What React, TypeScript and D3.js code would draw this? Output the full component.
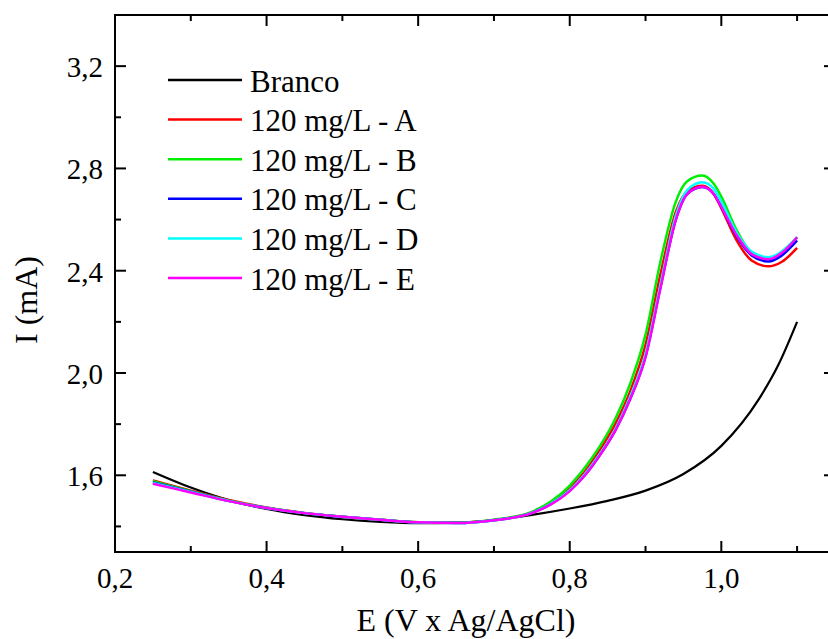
import React from "react";
import * as d3 from "d3";

// ---- data ----
const BLANK_E = [0.25, 0.3, 0.35, 0.4, 0.45, 0.5, 0.55, 0.6, 0.65, 0.7, 0.75, 0.8, 0.85, 0.9, 0.95, 1.0, 1.05, 1.075, 1.1];
const BLANK_I = [1.613, 1.552, 1.503, 1.468, 1.444, 1.428, 1.418, 1.413, 1.415, 1.425, 1.445, 1.47, 1.5, 1.54, 1.605, 1.715, 1.9, 2.03, 2.2];

const E_GRID = [0.25, 0.3, 0.35, 0.4, 0.45, 0.5, 0.55, 0.6, 0.65, 0.7, 0.75, 0.775, 0.8, 0.82, 0.84, 0.86, 0.88, 0.9, 0.92, 0.94, 0.955, 0.975, 0.99, 1.0, 1.02, 1.04, 1.062, 1.08, 1.1];
const SAMPLE_A = [1.58, 1.54, 1.503, 1.474, 1.453, 1.438, 1.426, 1.416, 1.414, 1.425, 1.455, 1.492, 1.55, 1.615, 1.7, 1.8, 1.93, 2.11, 2.39, 2.63, 2.71, 2.732, 2.7, 2.645, 2.52, 2.44, 2.417, 2.435, 2.489];
const SAMPLE_B = [1.577, 1.538, 1.501, 1.473, 1.452, 1.438, 1.426, 1.416, 1.414, 1.426, 1.457, 1.497, 1.56, 1.63, 1.715, 1.82, 1.96, 2.15, 2.44, 2.67, 2.75, 2.772, 2.74, 2.69, 2.56, 2.47, 2.448, 2.475, 2.53];
const SAMPLE_C = [1.572, 1.536, 1.5, 1.472, 1.452, 1.438, 1.426, 1.416, 1.413, 1.424, 1.453, 1.487, 1.54, 1.6, 1.68, 1.775, 1.9, 2.065, 2.34, 2.6, 2.7, 2.727, 2.7, 2.65, 2.535, 2.46, 2.436, 2.46, 2.518];
const SAMPLE_D = [1.57, 1.535, 1.5, 1.472, 1.452, 1.438, 1.426, 1.416, 1.413, 1.424, 1.453, 1.488, 1.542, 1.605, 1.685, 1.78, 1.91, 2.075, 2.35, 2.615, 2.715, 2.746, 2.72, 2.67, 2.55, 2.475, 2.453, 2.475, 2.531];
const SAMPLE_E = [1.567, 1.533, 1.499, 1.472, 1.452, 1.438, 1.426, 1.416, 1.413, 1.424, 1.452, 1.486, 1.538, 1.6, 1.68, 1.775, 1.9, 2.062, 2.335, 2.6, 2.7, 2.728, 2.7, 2.65, 2.54, 2.465, 2.445, 2.47, 2.531];

const LEGEND_LABELS = ["Branco", "120 mg/L - A", "120 mg/L - B", "120 mg/L - C", "120 mg/L - D", "120 mg/L - E"];
const COLORS = ["#000000", "#ff0000", "#00ee00", "#0000ff", "#00ffff", "#ff00ff"];

const X_MAJOR = [0.2, 0.4, 0.6, 0.8, 1.0];
const X_MINOR = [0.3, 0.5, 0.7, 0.9, 1.1];
const Y_MAJOR = [1.6, 2.0, 2.4, 2.8, 3.2];
const Y_MINOR = [1.4, 1.8, 2.2, 2.6, 3.0];

const fmt = (v: number) => v.toFixed(1).replace(".", ",");

export default function App() {
  const W = 828, H = 639;
  const left = 115, right = 835, top = 15, bottom = 552;
  const x = d3.scaleLinear().domain([0.2, 1.15]).range([left, right]);
  const y = d3.scaleLinear().domain([1.3, 3.4]).range([bottom, top]);
  const line = d3
    .line<[number, number]>()
    .x((d) => x(d[0]))
    .y((d) => y(d[1]))
    .curve(d3.curveMonotoneX);

  const series: { e: number[]; i: number[] }[] = [
    { e: BLANK_E, i: BLANK_I },
    { e: E_GRID, i: SAMPLE_A },
    { e: E_GRID, i: SAMPLE_B },
    { e: E_GRID, i: SAMPLE_C },
    { e: E_GRID, i: SAMPLE_D },
    { e: E_GRID, i: SAMPLE_E },
  ];

  const font = "Liberation Serif, Times New Roman, serif";
  const majorLen = 11, minorLen = 6;

  return (
    <svg width={W} height={H} style={{ position: "absolute", left: 0, top: 0, background: "#fff" }}>
      <rect x={0} y={0} width={W} height={H} fill="#fff" />
      <defs>
        <clipPath id="clip">
          <rect x={left} y={top} width={right - left} height={bottom - top} />
        </clipPath>
      </defs>
      <g clipPath="url(#clip)">
        {series.map((s, k) => (
          <path
            key={k}
            d={line(s.e.map((e, j) => [e, s.i[j]] as [number, number])) || ""}
            fill="none"
            stroke={COLORS[k]}
            strokeWidth={k === 0 ? 2.2 : 2.5}
            strokeLinejoin="round"
          />
        ))}
      </g>
      {/* frame */}
      <rect x={left} y={top} width={right - left} height={bottom - top} fill="none" stroke="#000" strokeWidth={2} />
      {/* x ticks */}
      {X_MAJOR.map((v) => (
        <g key={"xm" + v}>
          <line x1={x(v)} x2={x(v)} y1={bottom} y2={bottom - majorLen} stroke="#000" strokeWidth={2} />
          <line x1={x(v)} x2={x(v)} y1={top} y2={top + majorLen} stroke="#000" strokeWidth={2} />
          <text x={x(v)} y={588} textAnchor="middle" fontFamily={font} fontSize={29} fill="#000">
            {fmt(v)}
          </text>
        </g>
      ))}
      {X_MINOR.map((v) => (
        <g key={"xn" + v}>
          <line x1={x(v)} x2={x(v)} y1={bottom} y2={bottom - minorLen} stroke="#000" strokeWidth={2} />
          <line x1={x(v)} x2={x(v)} y1={top} y2={top + minorLen} stroke="#000" strokeWidth={2} />
        </g>
      ))}
      {/* y ticks */}
      {Y_MAJOR.map((v) => (
        <g key={"ym" + v}>
          <line x1={left} x2={left + majorLen} y1={y(v)} y2={y(v)} stroke="#000" strokeWidth={2} />
          <line x1={right} x2={right - majorLen} y1={y(v)} y2={y(v)} stroke="#000" strokeWidth={2} />
          <text x={103} y={y(v) + 11} textAnchor="end" fontFamily={font} fontSize={29} fill="#000">
            {fmt(v)}
          </text>
        </g>
      ))}
      {Y_MINOR.map((v) => (
        <g key={"yn" + v}>
          <line x1={left} x2={left + minorLen} y1={y(v)} y2={y(v)} stroke="#000" strokeWidth={2} />
          <line x1={right} x2={right - minorLen} y1={y(v)} y2={y(v)} stroke="#000" strokeWidth={2} />
        </g>
      ))}
      {/* axis titles */}
      <text x={466} y={631} textAnchor="middle" fontFamily={font} fontSize={32} fill="#000">
        E (V x Ag/AgCl)
      </text>
      <text transform="translate(37,300) rotate(-90)" textAnchor="middle" fontFamily={font} fontSize={32} fill="#000">
        I (mA)
      </text>
      {/* legend */}
      {LEGEND_LABELS.map((lab, k) => {
        const cy = 80 + k * 39.6;
        return (
          <g key={lab}>
            <line x1={168} x2={242} y1={cy} y2={cy} stroke={COLORS[k]} strokeWidth={2.5} />
            <text x={250} y={cy + 11.5} fontFamily={font} fontSize={31} fill="#000">
              {lab}
            </text>
          </g>
        );
      })}
    </svg>
  );
}
